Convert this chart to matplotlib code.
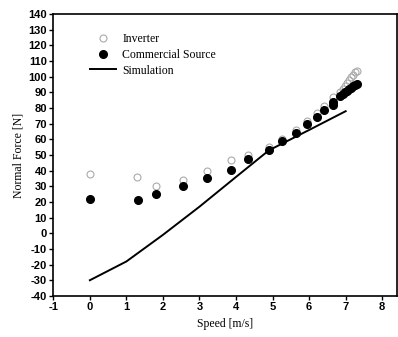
import numpy as np
import matplotlib
matplotlib.use("Agg")
import matplotlib.pyplot as plt

inv_speed = [0.0, 1.3, 1.8, 2.55, 3.2, 3.86, 4.33, 4.9, 5.26, 5.64, 5.95, 6.22, 6.41, 6.66,
             6.85, 6.92, 6.98, 7.04, 7.1, 7.15, 7.2, 7.25, 7.3]
inv_force = [38, 36, 30, 34, 40, 47, 50, 55, 60, 66, 72, 77, 81, 87,
             90, 92, 94, 96, 98, 100, 101, 103, 104]
com_speed = [0.0, 1.32, 1.81, 2.55, 3.2, 3.86, 4.33, 4.9, 5.26, 5.64, 5.95, 6.22, 6.41, 6.66, 6.66,
             6.85, 6.92, 6.98, 7.04, 7.1, 7.15, 7.2, 7.25, 7.3]
com_force = [22, 21, 25, 30.5, 35, 40.5, 47.5, 53, 59, 64, 69.5, 74.5, 79, 84, 82,
             88, 89, 90, 91, 92, 93, 94, 95, 95.5]
sim_speed = [0.0, 1.0, 2.0, 3.0, 4.0, 4.9, 6.0, 7.0]
sim_force = [-30, -18, -1, 17, 36, 53, 66, 78]

plt.rcParams['font.family'] = ['Liberation Serif', 'DejaVu Serif']
plt.rcParams['axes.unicode_minus'] = False

fig = plt.figure(figsize=(3.98, 3.37), dpi=100)
ax = fig.add_axes([0.134, 0.122, 0.863, 0.836])

ax.plot(inv_speed, inv_force, 'o', mfc='none', mec='#aaaaaa', ms=5, mew=0.8, label='Inverter')
ax.plot(com_speed, com_force, 'o', color='black', ms=5.5, label='Commercial Source')
ax.plot(sim_speed, sim_force, '-', color='black', lw=1.4, label='Simulation')

ax.set_xlim(-1, 8.4)
ax.set_ylim(-40, 140)
ax.set_xticks(np.arange(-1, 9, 1))
ax.set_yticks(np.arange(-40, 141, 10))
for lab in ax.get_xticklabels() + ax.get_yticklabels():
    lab.set_family('Liberation Sans')
    lab.set_fontweight('bold')
    lab.set_fontsize(8)
ax.tick_params(direction='out', length=3, width=1, pad=1.5)
for s in ax.spines.values():
    s.set_linewidth(1.2)

ax.set_xlabel('Speed [m/s]', fontsize=8.5, labelpad=4)
ax.set_ylabel('Normal Force [N]', fontsize=8.5, labelpad=3)

ax.legend(loc='upper left', frameon=False, fontsize=8.5, handlelength=2.2,
          handletextpad=0.5, labelspacing=0.3, borderaxespad=0.4,
          bbox_to_anchor=(0.08, 0.965))

fig.savefig('out.png', dpi=100)
